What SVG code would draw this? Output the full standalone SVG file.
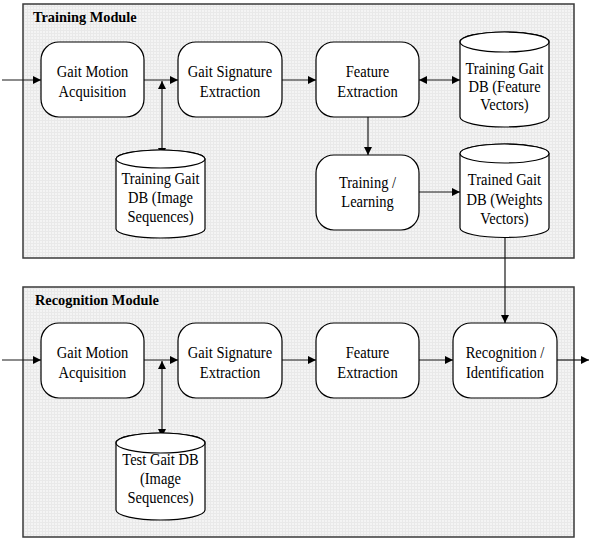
<svg xmlns="http://www.w3.org/2000/svg" width="589" height="543" viewBox="0 0 589 543" font-family="'Liberation Serif', Tinos, 'Times New Roman', serif">
<defs>
<pattern id="grid" width="3" height="3" patternUnits="userSpaceOnUse">
<rect width="3" height="3" fill="#f4f4f4"/>
<path d="M0 0.5H3M0.5 0V3" stroke="#e9e9e9" stroke-width="1"/>
</pattern>
<marker id="ah" viewBox="0 0 10 10" refX="10" refY="5" markerWidth="8" markerHeight="8" markerUnits="userSpaceOnUse" orient="auto-start-reverse">
<path d="M0 0L10 5L0 10Z" fill="#000"/>
</marker>
<style>
.mod{fill:url(#grid);stroke:#3a3a3a;stroke-width:1.5}
.box{fill:#fff;stroke:#000;stroke-width:1.2}
.t{font-size:17.5px;fill:#000;text-anchor:middle}
.title{font-size:13.8px;font-weight:bold;fill:#000}
.c{fill:none;stroke:#1a1a1a;stroke-width:1.2}
</style>
</defs>
<rect width="589" height="543" fill="#fff"/>
<g id="training-module">
<rect class="mod" x="23" y="4" width="551" height="254"/>
<text class="title" transform="matrix(1.04 0 0 1 33 22)">Training Module</text>
</g>
<g id="recognition-module">
<rect class="mod" x="23" y="287" width="551" height="250"/>
<text class="title" transform="matrix(1.04 0 0 1 35 305)">Recognition Module</text>
</g>
<g id="connectors">
<path class="c" d="M2 80H41" marker-end="url(#ah)"/>
<path class="c" d="M144 80H178" marker-end="url(#ah)"/>
<path class="c" d="M162 81V156" marker-start="url(#ah)" marker-end="url(#ah)"/>
<path class="c" d="M282 80H316" marker-end="url(#ah)"/>
<path class="c" d="M419 80H460" marker-start="url(#ah)" marker-end="url(#ah)"/>
<path class="c" d="M368 117V155" marker-end="url(#ah)"/>
<path class="c" d="M419 192H460" marker-end="url(#ah)"/>
<path class="c" d="M505 236V323" marker-end="url(#ah)"/>
<path class="c" d="M2 360H41" marker-end="url(#ah)"/>
<path class="c" d="M144 360H178" marker-end="url(#ah)"/>
<path class="c" d="M162 361V437" marker-start="url(#ah)" marker-end="url(#ah)"/>
<path class="c" d="M282 360H316" marker-end="url(#ah)"/>
<path class="c" d="M419 360H453" marker-end="url(#ah)"/>
<path class="c" d="M557 360H589" marker-end="url(#ah)"/>
</g>
<g id="t-gma">
<rect class="box" x="41" y="42" width="103" height="75" rx="18"/>
<text class="t" transform="matrix(0.83 0 0 1 92.5 77)">Gait Motion</text>
<text class="t" transform="matrix(0.83 0 0 1 92.5 96.5)">Acquisition</text>
</g>
<g id="t-gse">
<rect class="box" x="178" y="42" width="104" height="75" rx="18"/>
<text class="t" transform="matrix(0.83 0 0 1 230 77)">Gait Signature</text>
<text class="t" transform="matrix(0.83 0 0 1 230 96.5)">Extraction</text>
</g>
<g id="t-fe">
<rect class="box" x="316" y="42" width="103" height="75" rx="18"/>
<text class="t" transform="matrix(0.83 0 0 1 367.5 77)">Feature</text>
<text class="t" transform="matrix(0.83 0 0 1 367.5 96.5)">Extraction</text>
</g>
<g id="t-db-fv">
<path class="box" d="M460 42A44.5 10 0 0 1 549 42V117A44.5 10 0 0 1 460 117Z"/>
<ellipse class="box" cx="504.5" cy="42" rx="44.5" ry="10"/>
<text class="t" transform="matrix(0.83 0 0 1 504.5 74)">Training Gait</text>
<text class="t" transform="matrix(0.83 0 0 1 504.5 92)">DB (Feature</text>
<text class="t" transform="matrix(0.83 0 0 1 504.5 110)">Vectors)</text>
</g>
<g id="t-db-is">
<path class="box" d="M116 159A44.5 9 0 0 1 205 159V229A44.5 9 0 0 1 116 229Z"/>
<ellipse class="box" cx="160.5" cy="159" rx="44.5" ry="9"/>
<text class="t" transform="matrix(0.83 0 0 1 160.5 184)">Training Gait</text>
<text class="t" transform="matrix(0.83 0 0 1 160.5 203)">DB (Image</text>
<text class="t" transform="matrix(0.83 0 0 1 160.5 222)">Sequences)</text>
</g>
<g id="t-tl">
<rect class="box" x="316" y="155" width="103" height="75" rx="18"/>
<text class="t" transform="matrix(0.83 0 0 1 367.5 188)">Training /</text>
<text class="t" transform="matrix(0.83 0 0 1 367.5 207)">Learning</text>
</g>
<g id="t-db-wv">
<path class="box" d="M460 153.5A44.5 9.5 0 0 1 549 153.5V228A44.5 9.5 0 0 1 460 228Z"/>
<ellipse class="box" cx="504.5" cy="153.5" rx="44.5" ry="9.5"/>
<text class="t" transform="matrix(0.83 0 0 1 504.5 185)">Trained Gait</text>
<text class="t" transform="matrix(0.83 0 0 1 504.5 205)">DB (Weights</text>
<text class="t" transform="matrix(0.83 0 0 1 504.5 224)">Vectors)</text>
</g>
<g id="r-gma">
<rect class="box" x="41" y="323" width="103" height="75" rx="18"/>
<text class="t" transform="matrix(0.83 0 0 1 92.5 358)">Gait Motion</text>
<text class="t" transform="matrix(0.83 0 0 1 92.5 377.5)">Acquisition</text>
</g>
<g id="r-gse">
<rect class="box" x="178" y="323" width="104" height="75" rx="18"/>
<text class="t" transform="matrix(0.83 0 0 1 230 358)">Gait Signature</text>
<text class="t" transform="matrix(0.83 0 0 1 230 377.5)">Extraction</text>
</g>
<g id="r-fe">
<rect class="box" x="316" y="323" width="103" height="75" rx="18"/>
<text class="t" transform="matrix(0.83 0 0 1 367.5 358)">Feature</text>
<text class="t" transform="matrix(0.83 0 0 1 367.5 377.5)">Extraction</text>
</g>
<g id="r-ri">
<rect class="box" x="453" y="323" width="104" height="75" rx="18"/>
<text class="t" transform="matrix(0.83 0 0 1 505 358)">Recognition /</text>
<text class="t" transform="matrix(0.83 0 0 1 505 377.5)">Identification</text>
</g>
<g id="r-db-test">
<path class="box" d="M116 443A44.5 10 0 0 1 205 443V510A44.5 10 0 0 1 116 510Z"/>
<ellipse class="box" cx="160.5" cy="443" rx="44.5" ry="10"/>
<text class="t" transform="matrix(0.83 0 0 1 160.5 465)">Test Gait DB</text>
<text class="t" transform="matrix(0.83 0 0 1 160.5 484)">(Image</text>
<text class="t" transform="matrix(0.83 0 0 1 160.5 503)">Sequences)</text>
</g>
</svg>
